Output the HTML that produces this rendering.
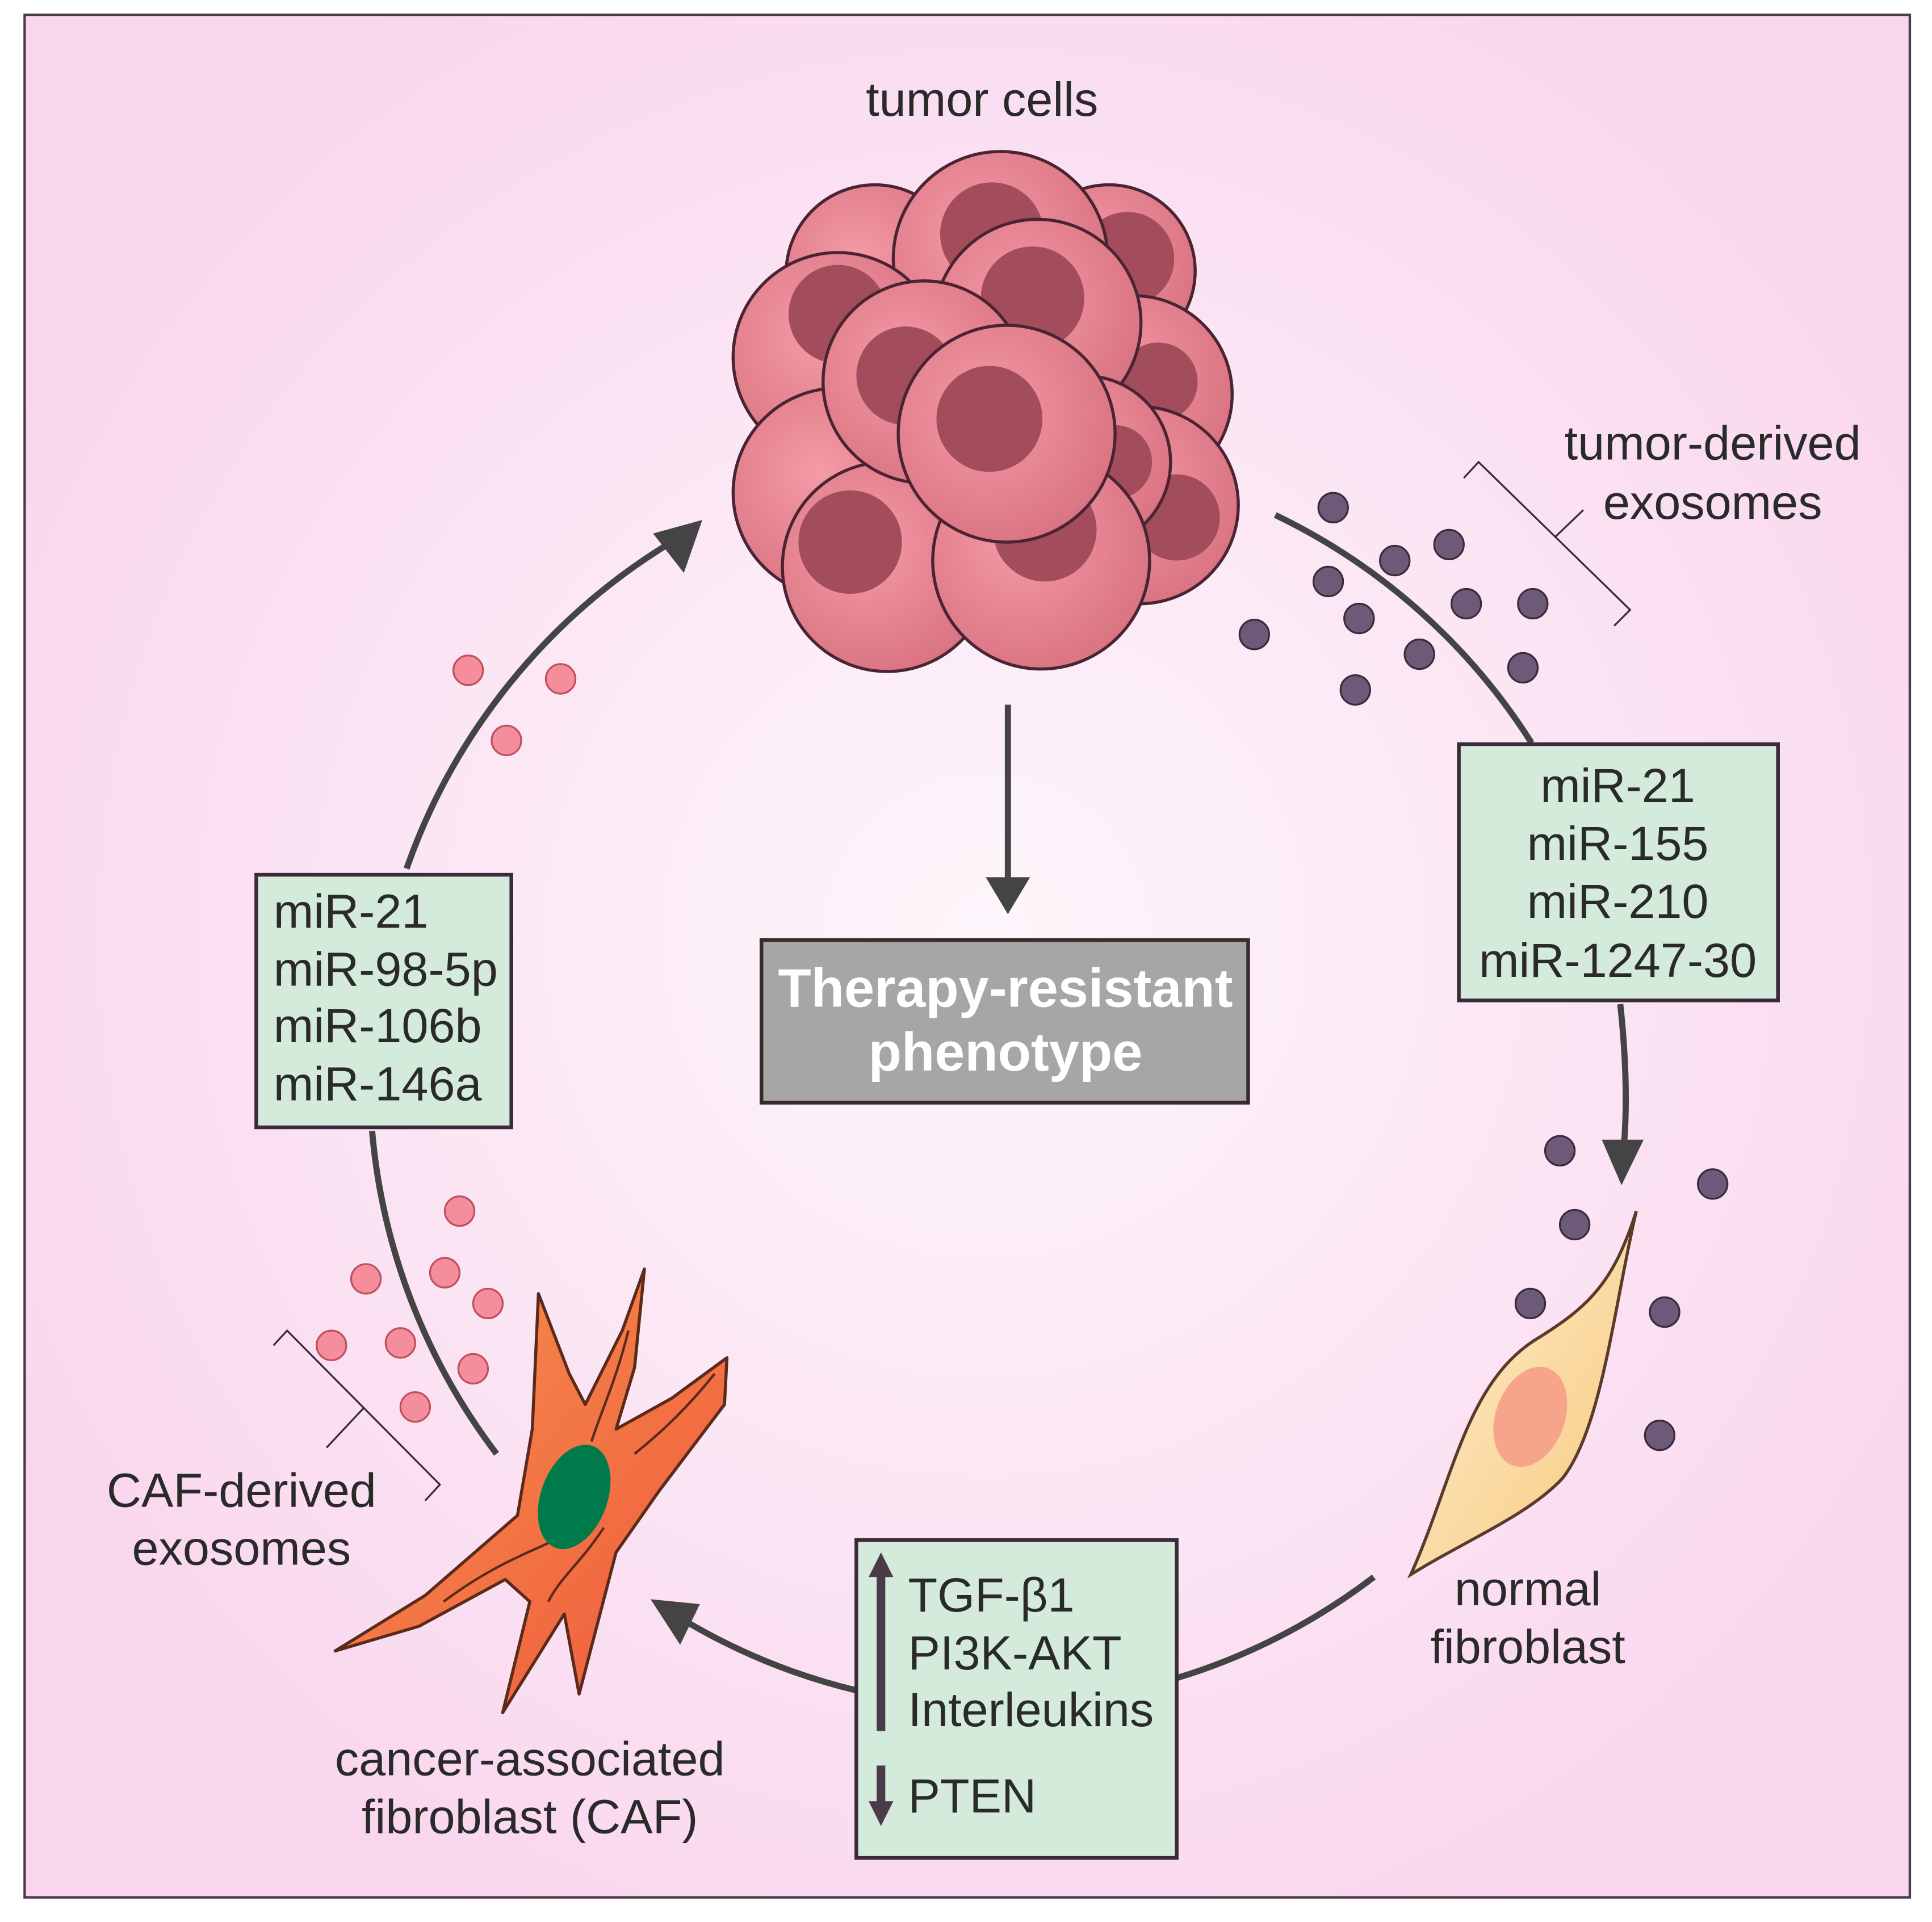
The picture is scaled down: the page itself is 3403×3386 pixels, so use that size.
<!DOCTYPE html>
<html><head><meta charset="utf-8"><style>
html,body{margin:0;padding:0;background:#fff;}
svg{display:block;}
text{font-family:"Liberation Sans",sans-serif;fill:#2a2a2a;}
</style></head><body>
<svg width="3403" height="3386" viewBox="0 0 1568 1560" preserveAspectRatio="none" xmlns="http://www.w3.org/2000/svg">
<defs>
<radialGradient id="bg" cx="800" cy="760" r="900" gradientUnits="userSpaceOnUse">
<stop offset="0" stop-color="#fdf6fb"/><stop offset="0.6" stop-color="#fbe3f3"/><stop offset="1" stop-color="#f9d6ee"/>
</radialGradient>
<radialGradient id="cell" cx="0.4" cy="0.4" r="0.7">
<stop offset="0" stop-color="#f59aa6"/><stop offset="1" stop-color="#d7707f"/>
</radialGradient>
<linearGradient id="nf" x1="0" y1="0" x2="1" y2="1">
<stop offset="0" stop-color="#fdf0d6"/><stop offset="1" stop-color="#f8c878"/>
</linearGradient>
<linearGradient id="caf" x1="0" y1="0" x2="1" y2="1">
<stop offset="0" stop-color="#f89050"/><stop offset="1" stop-color="#ee5a3a"/>
</linearGradient>
</defs>
<rect x="0" y="0" width="1568" height="1560" fill="#fff"/>
<rect x="20" y="12" width="1530" height="1528" fill="url(#bg)" stroke="#4a3a4a" stroke-width="2"/>

<text x="797" y="94" font-size="39" text-anchor="middle">tumor cells</text>

<g stroke="#4a2432" stroke-width="2.5" fill="url(#cell)">
<g><circle cx="710" cy="222" r="72"/><circle cx="700" cy="250" r="38" fill="#a24c5c" stroke="none"/></g>
<g><circle cx="900" cy="220" r="70"/><circle cx="915" cy="210" r="38" fill="#a24c5c" stroke="none"/></g>
<g><circle cx="812" cy="210" r="87"/><circle cx="805" cy="190" r="42" fill="#a24c5c" stroke="none"/></g>
<g><circle cx="920" cy="320" r="80"/><circle cx="940" cy="310" r="32" fill="#a24c5c" stroke="none"/></g>
<g><circle cx="680" cy="290" r="85"/><circle cx="680" cy="255" r="40" fill="#a24c5c" stroke="none"/></g>
<g><circle cx="842" cy="262" r="84"/><circle cx="838" cy="242" r="42" fill="#a24c5c" stroke="none"/></g>
<g><circle cx="680" cy="400" r="85"/></g>
<g><circle cx="925" cy="410" r="80"/><circle cx="955" cy="420" r="35" fill="#a24c5c" stroke="none"/></g>
<g><circle cx="720" cy="460" r="85"/><circle cx="690" cy="440" r="42" fill="#a24c5c" stroke="none"/></g>
<g><circle cx="880" cy="375" r="70"/><circle cx="905" cy="375" r="30" fill="#a24c5c" stroke="none"/></g>
<g><circle cx="845" cy="455" r="88"/><circle cx="848" cy="430" r="42" fill="#a24c5c" stroke="none"/></g>
<g><circle cx="750" cy="310" r="82"/><circle cx="735" cy="305" r="40" fill="#a24c5c" stroke="none"/></g>
<g><circle cx="817" cy="352" r="88"/><circle cx="803" cy="340" r="43" fill="#a24c5c" stroke="none"/></g>
</g>

<line x1="818" y1="572" x2="818" y2="715" stroke="#444" stroke-width="5"/>
<path d="M800,712 L836,712 L818,742 Z" fill="#444"/>

<rect x="618" y="763" width="395" height="132" fill="#a6a6a6" stroke="#3a2a2a" stroke-width="3"/>
<text x="816" y="817" font-size="44" font-weight="bold" text-anchor="middle" style="fill:#fff">Therapy-resistant</text>
<text x="816" y="869" font-size="44" font-weight="bold" text-anchor="middle" style="fill:#fff">phenotype</text>

<g fill="none" stroke="#444" stroke-width="5">
<path d="M1035,418 A505,505 0 0 1 1243,603"/>
<path d="M1315,815 Q1322,880 1318,930"/>
<path d="M1115,1280 A505,505 0 0 1 955,1362"/>
<path d="M695,1372 A505,505 0 0 1 550,1312"/>
<path d="M403,1180 A505,505 0 0 1 302,918"/>
<path d="M330,705 A505,505 0 0 1 545,440"/>
</g>
<path d="M1300,925 L1334,925 L1316,962 Z" fill="#444"/>
<path d="M528,1298 L568,1302 L552,1335 Z" fill="#444"/>
<path d="M570,422 L530,433 L555,465 Z" fill="#444"/>

<rect x="1184" y="604" width="259" height="208" fill="#d4eadb" stroke="#3a2a3a" stroke-width="3"/>
<g font-size="39" text-anchor="middle">
<text x="1313" y="651">miR-21</text><text x="1313" y="698">miR-155</text><text x="1313" y="745">miR-210</text><text x="1313" y="793">miR-1247-30</text>
</g>
<rect x="208" y="710" width="207" height="205" fill="#d4eadb" stroke="#3a2a3a" stroke-width="3"/>
<g font-size="39">
<text x="222" y="753">miR-21</text><text x="222" y="800">miR-98-5p</text><text x="222" y="846">miR-106b</text><text x="222" y="893">miR-146a</text>
</g>
<rect x="695" y="1250" width="260" height="258" fill="#d4eadb" stroke="#3a2a3a" stroke-width="3"/>
<g font-size="39">
<text x="737" y="1308">TGF-β1</text><text x="737" y="1355">PI3K-AKT</text><text x="737" y="1401">Interleukins</text><text x="737" y="1471">PTEN</text>
</g>
<line x1="715" y1="1275" x2="715" y2="1405" stroke="#4a3a4a" stroke-width="7"/>
<path d="M705,1280 L725,1280 L715,1260 Z" fill="#4a3a4a"/>
<line x1="715" y1="1433" x2="715" y2="1465" stroke="#4a3a4a" stroke-width="7"/>
<path d="M705,1462 L725,1462 L715,1482 Z" fill="#4a3a4a"/>

<g fill="#6c5a78" stroke="#3a2a3a" stroke-width="1.5">
<circle cx="1082" cy="412" r="12"/><circle cx="1132" cy="455" r="12"/><circle cx="1176" cy="442" r="12"/>
<circle cx="1078" cy="472" r="12"/><circle cx="1103" cy="502" r="12"/><circle cx="1190" cy="490" r="12"/>
<circle cx="1244" cy="490" r="12"/><circle cx="1018" cy="515" r="12"/><circle cx="1152" cy="531" r="12"/>
<circle cx="1236" cy="542" r="12"/><circle cx="1100" cy="560" r="12"/>
<circle cx="1266" cy="934" r="12"/><circle cx="1390" cy="961" r="12"/><circle cx="1278" cy="994" r="12"/>
<circle cx="1242" cy="1058" r="12"/><circle cx="1351" cy="1065" r="12"/><circle cx="1347" cy="1165" r="12"/>
</g>
<g fill="#f48e9c" stroke="#c0505e" stroke-width="1.5">
<circle cx="380" cy="544" r="12"/><circle cx="455" cy="551" r="12"/><circle cx="411" cy="601" r="12"/>
<circle cx="373" cy="983" r="12"/><circle cx="297" cy="1038" r="12"/><circle cx="361" cy="1033" r="12"/>
<circle cx="396" cy="1058" r="12"/><circle cx="269" cy="1092" r="12"/><circle cx="325" cy="1090" r="12"/>
<circle cx="384" cy="1111" r="12"/><circle cx="337" cy="1142" r="12"/>
</g>

<g fill="none" stroke="#3a2a3a" stroke-width="1.5">
<polyline points="1188,388 1200,375 1323,495 1310,508"/>
<line x1="1262" y1="436" x2="1285" y2="414"/>
<polyline points="222,1092 233,1080 357,1205 345,1218"/>
<line x1="295" y1="1143" x2="265" y2="1175"/>
</g>
<g font-size="39" text-anchor="middle">
<text x="1390" y="373">tumor-derived</text><text x="1390" y="421">exosomes</text>
<text x="196" y="1223">CAF-derived</text><text x="196" y="1270">exosomes</text>
<text x="1240" y="1303">normal</text><text x="1240" y="1350">fibroblast</text>
<text x="430" y="1441">cancer-associated</text><text x="430" y="1488">fibroblast (CAF)</text>
</g>

<path d="M1328,983 C1310,1040 1290,1060 1250,1085 C1190,1120 1180,1200 1145,1278 C1190,1250 1240,1230 1268,1200 C1300,1160 1310,1060 1328,983 Z" fill="url(#nf)" stroke="#5a3a2a" stroke-width="2.5"/>
<ellipse cx="1242" cy="1150" rx="28" ry="42" transform="rotate(20 1242 1150)" fill="#f6a48a"/>

<polygon points="272,1340 345,1295 420,1230 432,1160 437,1050 462,1115 475,1140 505,1080 523,1030 515,1110 500,1160 545,1135 590,1102 588,1140 535,1210 500,1260 470,1375 458,1310 408,1390 430,1300 410,1282 340,1320" fill="url(#caf)" stroke="#5a2a1a" stroke-width="2.5" stroke-linejoin="round"/>
<g fill="none" stroke="#5a2a1a" stroke-width="2">
<path d="M360,1300 C400,1270 430,1260 450,1250"/><path d="M445,1300 C455,1280 470,1270 490,1240"/>
<path d="M480,1170 C490,1140 500,1120 510,1080"/><path d="M515,1180 C540,1160 560,1140 580,1115"/>
</g>
<ellipse cx="466" cy="1215" rx="27" ry="44" transform="rotate(20 466 1215)" fill="#007a4a"/>
</svg>
</body></html>
